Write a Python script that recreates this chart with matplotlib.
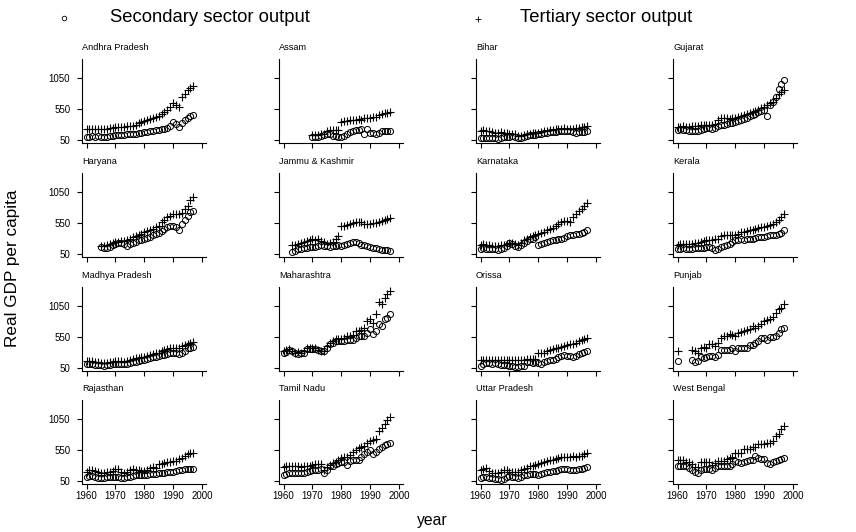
import numpy as np
import matplotlib
matplotlib.use("Agg")
import matplotlib.pyplot as plt

plt.rcParams['font.family'] = ['Liberation Sans', 'DejaVu Sans']

nan = np.nan
years = list(range(1960, 1998))

states = ["Andhra Pradesh", "Assam", "Bihar", "Gujarat",
          "Haryana", "Jammu & Kashmir", "Karnataka", "Kerala",
          "Madhya Pradesh", "Maharashtra", "Orissa", "Punjab",
          "Rajasthan", "Tamil Nadu", "Uttar Pradesh", "West Bengal"]

N10 = [nan] * 10
N5 = [nan] * 5
N3 = [nan] * 3
N4 = [nan] * 4

ap_sec = [100, 105, 110, 105, 110, 100, 95, 105, 110, 115, 125, 130, 125, 130, 140, 145, 140, 150, 160, 170,
          180, 185, 190, 200, 205, 215, 225, 235, 250, 270, 340, 310, 260, 330, 375, 400, 430, 450]
ap_ter = [220, 225, 230, 225, 230, 235, 225, 230, 240, 245, 255, 260, 255, 265, 270, 275, 280, 300, 320, 340,
          355, 370, 385, 400, 420, 440, 470, 500, 540, 580, 650, 620, 590, 740, 800, 850, 890, 915]
as_sec = N10 + [105, 100, 95, 110, 130, 150, 145, 120, 110, 95, 100, 120, 150, 185, 200, 210, 215, 220, 140, 230,
                160, 170, 150, 170, 190, 200, 195, 190]
as_ter = N10 + [130, 135, 130, 140, 150, 190, 210, 215, 210, 215, 340, 355, 350, 370, 375, 380, 385, 380, 400, 405,
                410, 415, 420, 450, 470, 480, 490, 495]
bi_sec = [80, 85, 90, 85, 80, 75, 70, 85, 95, 100, 105, 110, 100, 90, 85, 100, 120, 130, 125, 135,
          140, 150, 160, 170, 175, 180, 185, 190, 195, 200, 195, 190, 175, 170, 175, 180, 185, 190]
bi_ter = [200, 205, 200, 195, 180, 170, 165, 175, 170, 160, 155, 150, 140, 120, 110, 130, 145, 155, 160, 165,
          170, 180, 190, 200, 205, 215, 225, 230, 235, 240, 235, 230, 235, 240, 250, 255, 260, 270]
gu_sec = [210, 220, 215, 205, 200, 195, 190, 200, 205, 225, 240, 250, 230, 245, 270, 290, 300, 310, 320, 330,
          345, 360, 370, 390, 410, 430, 450, 470, 500, 520, 540, 440, 620, 660, 740, 880, 960, 1020]
gu_ter = [260, 265, 270, 260, 265, 270, 275, 280, 285, 290, 295, 300, 290, 310, 370, 400, 410, 405, 395, 400,
          410, 420, 440, 460, 470, 490, 500, 520, 540, 570, 590, 610, 640, 670, 720, 790, 830, 860]
ha_sec = N5 + [160, 150, 155, 170, 190, 210, 220, 225, 210, 185, 210, 230, 250, 270, 280, 290, 310, 330, 350, 370,
               390, 420, 450, 480, 500, 510, 490, 430, 530, 600, 670, 720, 750]
ha_ter = N5 + [185, 180, 190, 210, 230, 240, 250, 255, 260, 270, 290, 320, 340, 360, 380, 400, 420, 440, 460, 490,
               510, 560, 600, 640, 670, 700, 700, 690, 710, 780, 830, 920, 970]
jk_sec = N3 + [90, 100, 125, 130, 140, 150, 160, 165, 170, 180, 190, 185, 175, 170, 180, 175, 190,
               175, 190, 210, 230, 250, 240, 220, 200, 190, 175,
               160, 150, 140, 130, 120, 115, 110, 105]
jk_ter = N3 + [190, 200, 215, 230, 240, 260, 280, 295, 280, 285, 260, 240, 215, 230, 250, 290, 340,
               505, 510, 520, 535, 550, 570, 560, 565, 540, 535,
               540, 545, 550, 560, 580, 600, 610, 625]
ka_sec = [135, 140, 130, 125, 130, 125, 120, 130, 150, 180, 220, 210, 180, 170, 190, 230, 260, 290, 300, 320,
          200, 215, 230, 245, 260, 270, 280, 290, 300, 310, 340, 350, 355, 365, 380, 395, 410, 430]
ka_ter = [200, 205, 200, 190, 185, 180, 185, 190, 200, 215, 230, 225, 210, 190, 230, 270, 300, 330, 345, 360,
          375, 390, 410, 430, 450, 470, 500, 530, 560, 580, 580, 570, 640, 700, 740, 780, 830, 880]
ke_sec = [130, 135, 140, 130, 135, 130, 140, 145, 150, 155, 160, 170, 140, 115, 130, 160, 180, 200, 210, 240,
          270, 280, 285, 280, 285, 290, 300, 310, 320, 325, 330, 340, 350, 355, 360, 365, 390, 430]
ke_ter = [200, 205, 210, 205, 210, 215, 220, 230, 245, 260, 270, 275, 280, 290, 300, 340, 350, 355, 360, 360,
          360, 380, 400, 410, 420, 430, 440, 460, 470, 480, 485, 500, 520, 540, 570, 600, 650, 700]
mp_sec = [115, 120, 110, 105, 100, 95, 90, 95, 100, 110, 115, 120, 115, 110, 120, 130, 140, 150, 165, 175,
          185, 195, 210, 220, 230, 240, 255, 265, 280, 290, 300, 290, 270, 300, 330, 370, 380, 390]
mp_ter = [160, 170, 165, 150, 140, 130, 125, 135, 145, 155, 160, 165, 160, 155, 170, 180, 195, 205, 215, 220,
          225, 240, 255, 270, 285, 300, 320, 335, 350, 365, 380, 370, 380, 400, 420, 440, 460, 470]
mh_sec = [285, 310, 340, 320, 285, 280, 285, 300, 355, 360,
          355, 350, 335, 320, 320, 380, 435, 460, 480, 480,
          480, 490, 500, 500, 505, 540, 570, 560, 570, 620,
          675, 595, 650, 755, 730, 835, 865, 915]
mh_ter = [330, 345, 355, 330, 300, 305, 300, 330, 370, 370,
          375, 370, 345, 330, 330, 400, 460, 490, 515, 515,
          520, 540, 560, 570, 575, 640, 650, 670, 700, 810,
          835, 780, 925, 1120, 1090, 1175, 1250, 1290]
or_sec = [90, 120, 125, 125, 120, 125, 110, 105, 100, 105,
          80, 75, 70, 70, 75, 80, 140, 140, 135, 140,
          125, 115, 150, 170, 175, 180, 200, 230, 250, 255,
          250, 240, 220, 240, 275, 290, 305, 320]
or_ter = [178, 185, 180, 180, 185, 180, 178, 180, 175, 180,
          180, 175, 175, 178, 180, 185, 195, 200, 200, 195,
          285, 285, 300, 320, 335, 355, 365, 375, 390, 400,
          420, 430, 440, 460, 480, 500, 520, 540]
pu_sec = [170] + N4 + [180, 140, 160, 220, 215,
                       225, 250, 250, 220, 260, 340, 345, 335, 340, 380,
                       330, 370, 365, 375, 380, 425, 425, 460, 490, 530,
                       530, 510, 550, 555, 560, 620, 675, 700]
pu_ter = [320] + N4 + [340, 330, 300, 370, 385,
                       380, 435, 435, 410, 460, 540, 565, 565, 605, 585,
                       570, 620, 630, 650, 660, 680, 730, 700, 730, 755,
                       810, 820, 840, 875, 930, 1010, 1020, 1090]
ra_sec = [120, 130, 125, 115, 105, 95, 100, 110, 115, 120, 120, 115, 105, 95, 110, 120, 130, 140, 145, 150,
          150, 155, 160, 165, 170, 175, 180, 185, 190, 195, 200, 210, 220, 230, 240, 245, 245, 245]
ra_ter = [200, 220, 230, 210, 190, 175, 180, 190, 200, 210, 245, 240, 200, 175, 200, 230, 240, 235, 220, 210,
          210, 230, 260, 270, 265, 320, 330, 340, 350, 360, 370, 380, 400, 415, 450, 485, 500, 510]
tn_sec = [155, 165, 180, 175, 180, 185, 180, 185, 195, 205,
          220, 225, 235, 250, 180, 230, 285, 300, 330, 340,
          355, 350, 315, 380, 385, 390, 390, 430, 490, 520,
          550, 490, 515, 560, 605, 630, 650, 660]
tn_ter = [275, 285, 300, 290, 285, 285, 280, 285, 290, 300,
          310, 325, 325, 320, 220, 280, 315, 335, 355, 390,
          425, 430, 435, 470, 515, 550, 585, 600, 620, 660,
          700, 715, 730, 860, 900, 970, 1030, 1090]
up_sec = [105, 110, 115, 100, 95, 90, 80, 70, 85, 110,
          125, 120, 110, 105, 115, 140, 150, 160, 170, 165,
          155, 170, 180, 195, 200, 205, 210, 225, 240, 250,
          245, 230, 235, 230, 245, 250, 260, 275]
up_ter = [230, 250, 265, 210, 180, 180, 180, 200, 230, 220,
          195, 195, 190, 195, 230, 250, 265, 285, 300, 310,
          330, 345, 360, 380, 385, 390, 410, 420, 435, 440,
          445, 440, 450, 445, 455, 460, 480, 500]
wb_sec = [285, 285, 285, 285, 265, 230, 195, 180, 230, 240,
          250, 240, 230, 260, 285, 290, 300, 295, 285, 330,
          380, 350, 340, 360, 380, 385, 390, 460, 420, 410,
          410, 340, 330, 355, 370, 390, 410, 425]
wb_ter = [390, 390, 390, 355, 355, 330, 275, 275, 355, 355,
          355, 355, 315, 340, 380, 380, 380, 410, 420, 435,
          500, 500, 500, 570, 570, 570, 595, 595, 640, 640,
          640, 660, 660, 700, 770, 810, 890, 945]

secondary = [ap_sec, as_sec, bi_sec, gu_sec, ha_sec, jk_sec, ka_sec, ke_sec,
             mp_sec, mh_sec, or_sec, pu_sec, ra_sec, tn_sec, up_sec, wb_sec]
tertiary = [ap_ter, as_ter, bi_ter, gu_ter, ha_ter, jk_ter, ka_ter, ke_ter,
            mp_ter, mh_ter, or_ter, pu_ter, ra_ter, tn_ter, up_ter, wb_ter]

yticks = [50, 550, 1050]
xticks = [1960, 1970, 1980, 1990, 2000]

W, H = 856, 532
fig = plt.figure(figsize=(W / 100, H / 100), dpi=100)
fig.patch.set_facecolor('white')

col_left = [82, 279, 476, 673]
row_bottom = [143, 257, 371, 484]
aw, ah = 124, 84

for i, st in enumerate(states):
    r, c = divmod(i, 4)
    ax = fig.add_axes([col_left[c] / W, 1 - row_bottom[r] / H, aw / W, ah / H])
    ax.set_xlim(1958.4, 2001.4)
    ax.set_ylim(2, 1357)
    ax.plot(years, secondary[i], linestyle='none', marker='o', markersize=4.4,
            markerfacecolor='none', markeredgecolor='black', markeredgewidth=0.7)
    ax.plot(years, tertiary[i], linestyle='none', marker='+', markersize=5.5,
            color='black', markeredgewidth=0.8)
    for s in ['top', 'right']:
        ax.spines[s].set_visible(False)
    ax.spines['left'].set_linewidth(0.8)
    ax.spines['bottom'].set_linewidth(0.8)
    ax.set_yticks(yticks)
    ax.set_xticks(xticks)
    ax.tick_params(axis='both', length=3.5, width=0.8, labelsize=7)
    ax.tick_params(axis='y', pad=5)
    ax.tick_params(axis='x', pad=1.5)
    if c != 0:
        ax.set_yticklabels([])
    if r != 3:
        ax.set_xticklabels([])
    ax.text(0.0, 1.08, st, transform=ax.transAxes, fontsize=6.6, ha='left', va='bottom')
    ax.patch.set_alpha(0)

# legend
fig.lines.append(plt.Line2D([64 / W], [1 - 18 / H], transform=fig.transFigure, marker='o',
                            markersize=3.3, markerfacecolor='none', markeredgecolor='black',
                            markeredgewidth=0.6, linestyle='none'))
fig.text(110 / W, 1 - 18 / H, "Secondary sector output", fontsize=13.3, ha='left', va='center')
fig.lines.append(plt.Line2D([478 / W], [1 - 19 / H], transform=fig.transFigure, marker='+',
                            markersize=4.2, color='black', markeredgewidth=0.6, linestyle='none'))
fig.text(520 / W, 1 - 18 / H, "Tertiary sector output", fontsize=13.3, ha='left', va='center')

fig.text(13 / W, 1 - 268 / H, "Real GDP per capita", rotation=90, fontsize=12.3,
         ha='center', va='center')
fig.text(432 / W, 1 - 521 / H, "year", fontsize=11.3, ha='center', va='center')

fig.savefig("out.png", dpi=100)
